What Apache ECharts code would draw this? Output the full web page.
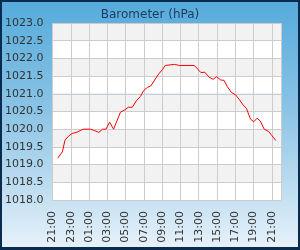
<!DOCTYPE html>
<html>
<head>
<meta charset="utf-8">
<title>Barometer</title>
<script src="https://cdn.jsdelivr.net/npm/echarts@6/dist/echarts.min.js"></script>
<style>
    html, body { margin: 0; padding: 0; }
    #frame {
        width: 300px; height: 250px; box-sizing: border-box;
        border: 2px solid #0b2b4e; border-bottom-width: 3px;
        background: linear-gradient(to bottom, #55abdb 0%, #8cc4e6 45%, #e6f1f9 100%);
    }
    #chart { width: 296px; height: 245px; }
</style>
</head>
<body>
<div id="frame"><div id="chart"></div></div>
<script>
// minutes since 21:00 (start of the plot)
var minutes = [34, 65, 82, 109, 130, 163, 199, 249, 277, 304,
    329, 351, 375, 401, 446, 472, 498, 524, 550, 576,
    598, 623, 645, 671, 697, 723, 740, 801, 833, 931,
    953, 974, 1000, 1028, 1054, 1078, 1104, 1126, 1148, 1174,
    1202, 1226, 1252, 1273, 1299, 1321, 1343, 1364, 1390, 1418,
    1440, 1466];

// barometer, hPa
var pressure = [1019.18, 1019.36, 1019.69, 1019.82, 1019.88, 1019.92, 1020.0, 1020.0, 1019.96, 1019.91,
    1020.0, 1020.0, 1020.2, 1020.0, 1020.48, 1020.54, 1020.62, 1020.62, 1020.8, 1020.92,
    1021.09, 1021.18, 1021.22, 1021.39, 1021.56, 1021.69, 1021.8, 1021.83, 1021.8, 1021.8,
    1021.7, 1021.6, 1021.61, 1021.47, 1021.41, 1021.48, 1021.39, 1021.38, 1021.2, 1021.04,
    1020.97, 1020.84, 1020.68, 1020.59, 1020.29, 1020.21, 1020.31, 1020.23, 1020.0, 1019.94,
    1019.82, 1019.68];

var startHour = 21;
var yTicks = [1018, 1018.5, 1019, 1019.5, 1020, 1020.5, 1021, 1021.5, 1022, 1022.5, 1023];

function hourLabel(m) {
    if (m % 120 !== 0) return '';
    var h = (startHour + m / 60) % 24;
    return (h < 10 ? '0' : '') + h + ':00';
}

var data = [];
for (var i = 0; i < minutes.length; i++) {
    data.push([minutes[i], pressure[i]]);
}

var myChart = echarts.init(document.getElementById('chart'));

var option = {
    animation: false,
    textStyle: { fontFamily: 'DejaVu Sans' },
    title: {
        text: 'Barometer (hPa)',
        left: 'center',
        top: 2,
        textStyle: { color: '#1c3a5e', fontSize: 12, fontWeight: 'normal', fontFamily: 'DejaVu Sans' }
    },
    grid: { left: 48, top: 21, right: 17, bottom: 47 },
    xAxis: {
        type: 'value',
        min: 0,
        max: 1500,
        interval: 120,
        axisLine: { show: false },
        axisTick: { show: false },
        axisLabel: {
            rotate: 90,
            margin: 11,
            color: '#333',
            fontSize: 11,
            showMaxLabel: true,
            formatter: hourLabel
        },
        splitLine: { show: true, lineStyle: { color: '#cccccc', width: 1 } }
    },
    yAxis: {
        type: 'value',
        min: yTicks[0],
        max: yTicks[yTicks.length - 1],
        interval: 0.5,
        axisLine: { show: false },
        axisTick: { show: false },
        axisLabel: {
            margin: 9,
            color: '#333',
            fontSize: 11,
            formatter: function (v) { return v.toFixed(1); }
        },
        splitLine: { show: true, lineStyle: { color: '#cccccc', width: 1 } },
        splitArea: { show: true, areaStyle: { color: ['#ffffff', '#f2f2f2'] } }
    },
    series: [{
        type: 'line',
        data: data,
        showSymbol: false,
        lineStyle: { color: '#ff0000', width: 1 },
        itemStyle: { color: '#ff0000' }
    }]
};

myChart.setOption(option);
</script>
</body>
</html>
